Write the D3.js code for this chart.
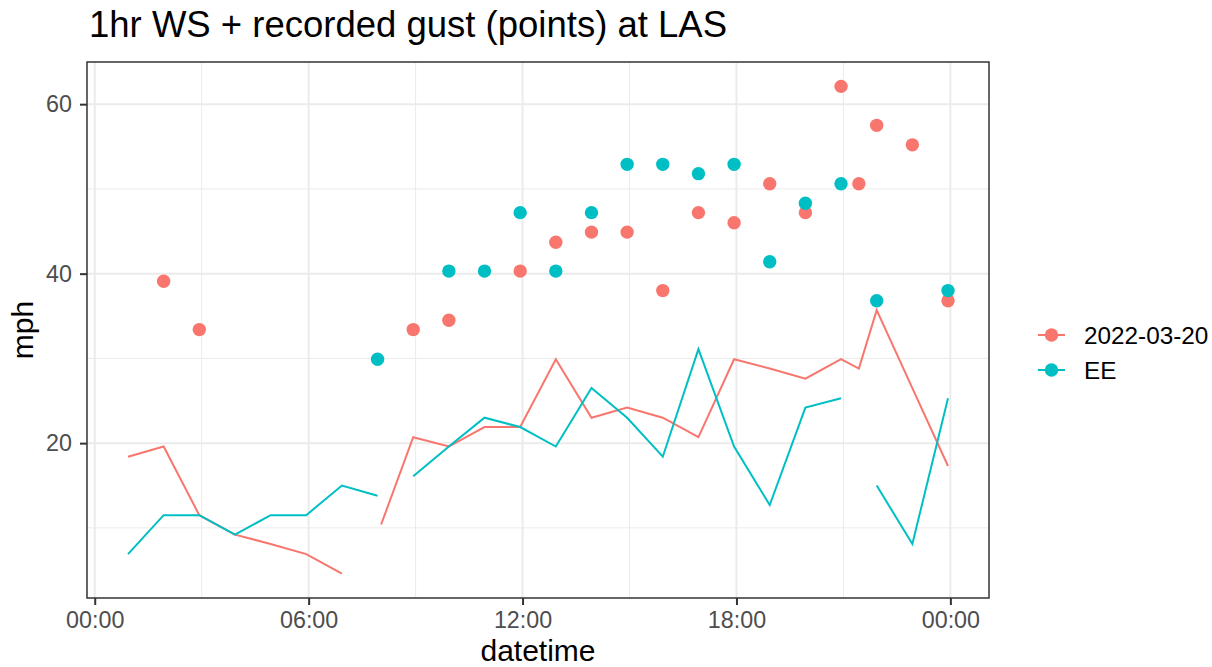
<!DOCTYPE html>
<html><head><meta charset="utf-8">
<script src="https://cdn.jsdelivr.net/npm/d3@7"></script>
<style>body{margin:0;background:#fff}svg{display:block;font-family:"Liberation Sans",Arial,sans-serif}</style>
</head><body><svg id="c" width="1212" height="667"></svg>
<script>
// ---- data ----
const times = ["00:56","01:56","02:56","03:56","04:56","05:56","06:56","07:56","08:02","08:56","09:56","10:56","11:56","12:56","13:56","14:56","15:56","16:56","17:56","18:56","19:56","20:56","21:26","21:56","22:56","23:56"];
const seriesNames = ["2022-03-20","EE"];
const seriesColors = ["#F8766D","#00BFC4"];
const wsObs = [18.4,19.6,11.5,9.2,8.1,6.9,4.6,null,10.4,20.7,19.6,21.9,21.9,29.9,23.0,24.2,23.0,20.7,29.9,28.8,27.6,29.9,28.8,35.7,26.5,17.3];
const gustObs = [null,39.1,33.4,null,null,null,null,null,null,33.4,34.5,null,40.3,43.7,44.9,44.9,38.0,47.2,46.0,50.6,47.2,62.1,50.6,57.5,55.2,36.8];
const wsEE = [6.9,11.5,11.5,9.2,11.5,11.5,15.0,13.8,null,16.1,19.6,23.0,21.9,19.6,26.5,23.0,18.4,31.1,19.6,12.7,24.2,25.3,null,15.0,8.1,25.3];
const gustEE = [null,null,null,null,null,null,null,29.9,null,null,40.3,40.3,47.2,40.3,47.2,52.9,52.9,51.8,52.9,41.4,48.3,50.6,null,36.8,null,38.0];
const yTickValues = [20,40,60];
const titleText = "1hr WS + recorded gust (points) at LAS";

// ---- build ----
const parse = d3.timeParse("%Y-%m-%d %H:%M");
const dates = times.map(t => parse("2022-03-20 " + t));
const series = [
  {name: seriesNames[0], color: seriesColors[0], ws: wsObs, gust: gustObs},
  {name: seriesNames[1], color: seriesColors[1], ws: wsEE, gust: gustEE}
].map(s => ({...s, rows: dates.map((d,i)=>({t:d, ws:s.ws[i], gust:s.gust[i]}))}));

const svg = d3.select("#c");
const P = {l:87, r:989, t:62, b:598};

const ext = d3.extent(dates);
const pad = (ext[1]-ext[0])*0.05;
const x = d3.scaleTime().domain([new Date(+ext[0]-pad), new Date(+ext[1]+pad)]).range([P.l, P.r]);

const allVals = [];
series.forEach(s => { s.ws.forEach(v=>{if(v!=null)allVals.push(v)}); s.gust.forEach(v=>{if(v!=null)allVals.push(v)}); });
const yext = d3.extent(allVals);
const ypad = (yext[1]-yext[0])*0.05;
const y = d3.scaleLinear().domain([yext[0]-ypad, yext[1]+ypad]).range([P.b, P.t]);

// grid
const g = svg.append("g");
const day0 = parse("2022-03-20 00:00");
const xMajor = d3.timeHour.every(6).range(new Date(+day0), new Date(+day0 + 25*3600e3));
const xMinor = xMajor.map(d => d3.timeHour.offset(d, 3)).filter(d => x(d) > P.l && x(d) < P.r);
const yMinor = [10,30,50];
g.selectAll(".xmin").data(xMinor).join("line").attr("x1",d=>x(d)).attr("x2",d=>x(d)).attr("y1",P.t).attr("y2",P.b).attr("stroke","#ebebeb").attr("stroke-width",1);
g.selectAll(".ymin").data(yMinor).join("line").attr("y1",d=>y(d)).attr("y2",d=>y(d)).attr("x1",P.l).attr("x2",P.r).attr("stroke","#ebebeb").attr("stroke-width",1);
g.selectAll(".xmaj").data(xMajor).join("line").attr("x1",d=>x(d)).attr("x2",d=>x(d)).attr("y1",P.t).attr("y2",P.b).attr("stroke","#ebebeb").attr("stroke-width",2);
g.selectAll(".ymaj").data(yTickValues).join("line").attr("y1",d=>y(d)).attr("y2",d=>y(d)).attr("x1",P.l).attr("x2",P.r).attr("stroke","#ebebeb").attr("stroke-width",2);

// lines
const line = d3.line().defined(d=>d.ws!=null).x(d=>x(d.t)).y(d=>y(d.ws));
series.forEach(s => {
  svg.append("path").attr("d", line(s.rows)).attr("fill","none").attr("stroke",s.color).attr("stroke-width",2);
});
// points
series.forEach(s => {
  svg.append("g").selectAll("circle").data(s.rows.filter(d=>d.gust!=null)).join("circle")
    .attr("cx",d=>x(d.t)).attr("cy",d=>y(d.gust)).attr("r",6.7).attr("fill",s.color);
});

// border
svg.append("rect").attr("x",P.l).attr("y",P.t).attr("width",P.r-P.l).attr("height",P.b-P.t).attr("fill","none").attr("stroke","#333333").attr("stroke-width",1.5);

// axes
const xAxis = svg.append("g").attr("transform",`translate(0,${P.b})`)
  .call(d3.axisBottom(x).tickValues(xMajor).tickFormat(d3.timeFormat("%H:%M")).tickSize(7).tickPadding(6));
const yAxis = svg.append("g").attr("transform",`translate(${P.l},0)`)
  .call(d3.axisLeft(y).tickValues(yTickValues).tickSize(7).tickPadding(8));
[xAxis,yAxis].forEach(a=>{
  a.select(".domain").remove();
  a.selectAll(".tick line").attr("stroke","#333333").attr("stroke-width",2);
  a.selectAll(".tick text").attr("fill","#4d4d4d").style("font-size","23.3px").style("font-family","Liberation Sans, Arial, sans-serif");
});
xAxis.selectAll(".tick text").attr("dy","0.71em");

// titles
svg.append("text").attr("x",89).attr("y",37).text(titleText).style("font-size","36.5px").attr("fill","#000");
svg.append("text").attr("x",(P.l+P.r)/2).attr("y",660.5).attr("text-anchor","middle").text("datetime").style("font-size","30px");
svg.append("text").attr("transform",`translate(33,${(P.t+P.b)/2}) rotate(-90)`).attr("text-anchor","middle").text("mph").style("font-size","30px");

// legend
const lg = svg.append("g");
series.forEach((s,i) => {
  const cy = 335 + i*35;
  lg.append("line").attr("x1",1038).attr("x2",1065).attr("y1",cy).attr("y2",cy).attr("stroke",s.color).attr("stroke-width",2);
  lg.append("circle").attr("cx",1051.5).attr("cy",cy).attr("r",6.7).attr("fill",s.color);
  lg.append("text").attr("x",1084).attr("y",cy).attr("dy","0.35em").text(s.name).style("font-size","24.3px");
});
</script></body></html>
